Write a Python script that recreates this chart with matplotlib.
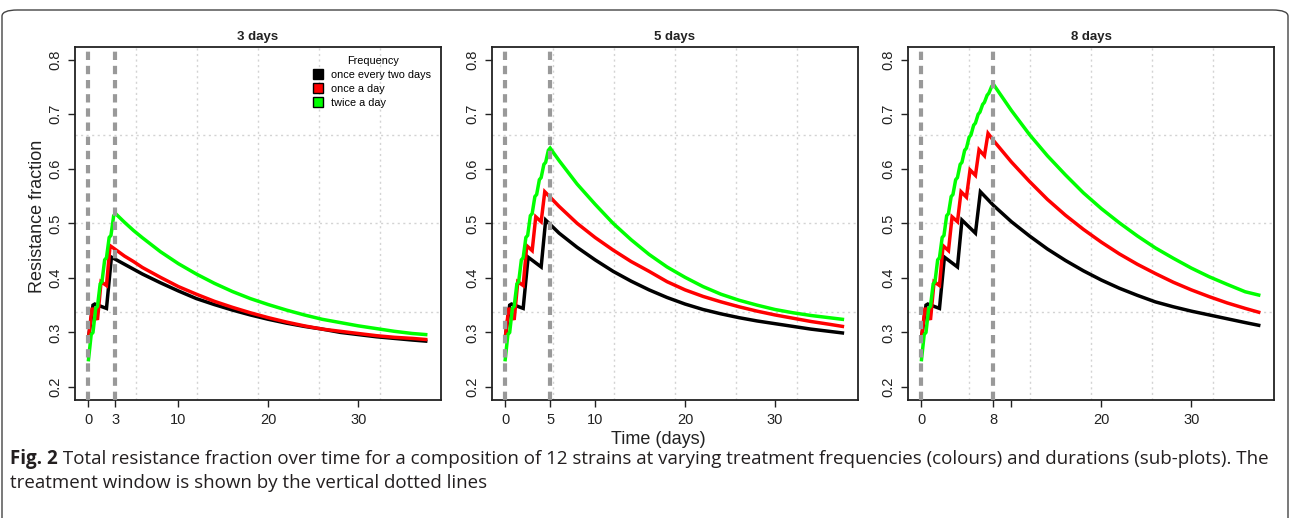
import matplotlib
matplotlib.use("Agg")
import matplotlib.pyplot as plt
from matplotlib.lines import Line2D
from matplotlib.patches import FancyBboxPatch
from matplotlib import font_manager

# panels: treatment duration in days
durations = [3, 5, 8]
titles = ["3 days", "5 days", "8 days"]
freq_labels = ["once every two days", "once a day", "twice a day"]
colors = ["black", "#ff0000", "#00ff00"]

# treatment phase (shorter panels share the start)
black_treat_t = [0, 0.5, 0.7, 2.0, 2.55, 4.0, 4.5, 6.0, 6.55]
black_treat_v = [0.29, 0.35, 0.352, 0.344, 0.438, 0.42, 0.506, 0.482, 0.558]
red_treat_t = [0, 0.4, 1.0, 1.4, 2.0, 2.4, 3.0, 3.4, 4.0, 4.4, 5.0, 5.4, 6.0, 6.4, 7.0, 7.4]
red_treat_v = [0.29, 0.345, 0.323, 0.393, 0.386, 0.459, 0.45, 0.512, 0.503, 0.558,
               0.548, 0.598, 0.588, 0.635, 0.624, 0.665]
green_treat_t = [0, 0.3, 0.5, 0.8, 1.0, 1.3, 1.5, 1.8, 2.0, 2.3, 2.5, 2.8, 3.0, 3.3, 3.5, 3.8,
                 4.0, 4.3, 4.5, 4.8, 5.0, 5.3, 5.5, 5.8, 6.0, 6.3, 6.5, 6.8, 7.0, 7.3, 7.5, 7.8]
green_treat_v = [0.25, 0.296, 0.30, 0.344, 0.348, 0.389, 0.393, 0.433, 0.437, 0.474, 0.478, 0.514,
                 0.518, 0.549, 0.553, 0.58, 0.584, 0.608, 0.612, 0.634, 0.638, 0.658, 0.662, 0.68,
                 0.684, 0.70, 0.704, 0.718, 0.722, 0.735, 0.739, 0.751]

# after the treatment window
after_t_3 = [3, 4, 5, 6, 8, 10, 12, 14, 16, 18, 20, 22, 24, 26, 28, 30, 32, 34, 36, 37.5]
black_after_3 = [0.434, 0.425, 0.416, 0.407, 0.391, 0.376, 0.362, 0.351, 0.341, 0.332,
                 0.324, 0.317, 0.311, 0.306, 0.300, 0.296, 0.292, 0.289, 0.286, 0.284]
red_after_3 = [0.452, 0.440, 0.430, 0.419, 0.401, 0.384, 0.370, 0.357, 0.346, 0.336,
               0.327, 0.319, 0.312, 0.306, 0.302, 0.298, 0.294, 0.291, 0.289, 0.287]
green_after_3 = [0.518, 0.502, 0.487, 0.4735, 0.448, 0.426, 0.407, 0.390, 0.375, 0.362,
                 0.351, 0.341, 0.332, 0.324, 0.318, 0.312, 0.307, 0.302, 0.298, 0.296]

after_t_5 = [5, 6, 8, 10, 12, 14, 16, 18, 20, 22, 24, 26, 28, 30, 32, 34, 36, 37.5]
black_after_5 = [0.498, 0.482, 0.456, 0.433, 0.412, 0.394, 0.378, 0.364, 0.352, 0.342,
                 0.334, 0.327, 0.321, 0.316, 0.311, 0.306, 0.302, 0.299]
red_after_5 = [0.548, 0.531, 0.500, 0.474, 0.451, 0.430, 0.412, 0.393, 0.378, 0.366,
               0.356, 0.347, 0.339, 0.332, 0.326, 0.320, 0.315, 0.311]
green_after_5 = [0.638, 0.615, 0.572, 0.535, 0.500, 0.470, 0.443, 0.420, 0.401, 0.384,
                 0.370, 0.359, 0.350, 0.342, 0.336, 0.331, 0.327, 0.324]

after_t_8 = [8, 10, 12, 14, 16, 18, 20, 22, 24, 26, 28, 30, 32, 34, 36, 37.5]
black_after_8 = [0.533, 0.503, 0.477, 0.453, 0.432, 0.413, 0.396, 0.381, 0.368, 0.356,
                 0.347, 0.339, 0.332, 0.325, 0.318, 0.313]
red_after_8 = [0.652, 0.6125, 0.577, 0.544, 0.515, 0.489, 0.4655, 0.444, 0.425, 0.408,
               0.392, 0.378, 0.3655, 0.354, 0.344, 0.337]
green_after_8 = [0.755, 0.707, 0.663, 0.624, 0.589, 0.556, 0.527, 0.501, 0.477, 0.455,
                 0.436, 0.418, 0.402, 0.388, 0.3745, 0.3685]

after_t = [after_t_3, after_t_5, after_t_8]
after_v = [[black_after_3, red_after_3, green_after_3],
           [black_after_5, red_after_5, green_after_5],
           [black_after_8, red_after_8, green_after_8]]
treat_t = [black_treat_t, red_treat_t, green_treat_t]
treat_v = [black_treat_v, red_treat_v, green_treat_v]

yticks = [0.2, 0.3, 0.4, 0.5, 0.6, 0.7, 0.8]

W, H = 1290, 518
plt.rcParams['font.family'] = ['Liberation Sans', 'DejaVu Sans']
fig = plt.figure(figsize=(W / 100, H / 100), dpi=100)

XL = (-1.5, 39.2)
YL = (0.176, 0.824)
lefts = [75, 491.7, 908]
top, bottom, width = 46.7, 400, 366
ink = "#222222"

axes = []
for i, T in enumerate(durations):
    ax = fig.add_axes([lefts[i] / W, 1 - bottom / H, width / W, (bottom - top) / H])
    axes.append(ax)
    ax.set_xlim(XL)
    ax.set_ylim(YL)
    # R style grid(6, 4)
    for k in range(1, 6):
        ax.axvline(XL[0] + k * (XL[1] - XL[0]) / 6, color="#d3d3d3", lw=1.0,
                   ls=(0, (1.5, 2.5)), zorder=1)
    for k in range(1, 4):
        ax.axhline(YL[0] + k * (YL[1] - YL[0]) / 4, color="#d3d3d3", lw=1.0,
                   ls=(0, (1.5, 2.5)), zorder=1)
    for j in range(3):
        tt = [t for t in treat_t[j] if t < T]
        vv = treat_v[j][:len(tt)]
        ax.plot(tt + after_t[i], vv + after_v[i][j], color=colors[j], lw=2.5,
                solid_joinstyle="miter", zorder=3 + j)
    for x in (0, T):
        ax.axvline(x, color="#999999", lw=3.0, ls=(0, (2.0, 1.4)), zorder=7)

    xt = [0, T, 10, 20, 30]
    xl = ["0", str(T), "10", "20", "30"]
    if T == 8:
        xl[2] = ""
    ax.set_xticks(xt)
    ax.set_xticklabels(xl)
    ax.set_yticks(yticks)
    ax.set_yticklabels([f"{v:.1f}" for v in yticks], rotation=90, va="center")
    ax.tick_params(axis="both", direction="out", length=5, width=1, labelsize=10.5,
                   color=ink, labelcolor=ink)
    ax.tick_params(axis="x", pad=4)
    ax.tick_params(axis="y", pad=4)
    for s in ax.spines.values():
        s.set_linewidth(1.3)
        s.set_color(ink)
    ax.set_title(titles[i], fontsize=9.5, fontweight="bold", pad=5, color=ink)

axes[0].set_ylabel("Resistance fraction", fontsize=13, color=ink)
axes[0].yaxis.set_label_coords(-0.078, 0.52)
fig.text(658.5 / W, 1 - 439 / H, "Time (days)", fontsize=13, ha="center", va="center",
         color=ink)

handles = [Line2D([], [], ls="none", marker="s", markersize=7, markerfacecolor=c,
                  markeredgecolor="black", markeredgewidth=1.0) for c in colors]
leg = axes[0].legend(handles, freq_labels, title="Frequency", loc="upper right",
                     bbox_to_anchor=(1.0, 1.0), frameon=False, fontsize=7.8,
                     title_fontsize=7.8, handlelength=0.8, handletextpad=0.8,
                     labelspacing=0.35, borderaxespad=0.5)

# outer journal frame
frame = FancyBboxPatch((2 / W, -0.05), (W - 4) / W, 1.05 - 10 / H,
                       boxstyle="round,pad=0,rounding_size=0.012",
                       transform=fig.transFigure, fill=False, lw=1.0,
                       edgecolor="#444444", clip_on=False)
fig.patches.append(frame)

names = {f.name for f in font_manager.fontManager.ttflist}
cap_font = "Liberation Sans Narrow" if "Liberation Sans Narrow" in names else "Open Sans"
cap_col = "#231f20"
line1 = (" Total resistance fraction over time for a composition of 12 strains at varying "
         "treatment frequencies (colours) and durations (sub-plots). The")
line2 = "treatment window is shown by the vertical dotted lines"

fig.canvas.draw()
r = fig.canvas.get_renderer()
probe1 = fig.text(0, 0, "Fig. 2", fontsize=10, fontweight="bold", family=cap_font)
probe2 = fig.text(0, 0, line1, fontsize=10, family=cap_font)
wtot = probe1.get_window_extent(r).width + probe2.get_window_extent(r).width
probe1.remove()
probe2.remove()
fs = 10 * (1268 - 10) / wtot

t1 = fig.text(10 / W, 1 - 459 / H, "Fig. 2", fontsize=fs, fontweight="bold",
              family=cap_font, va="center", color=cap_col)
w1 = t1.get_window_extent(r).width
fig.text((10 + w1) / W, 1 - 459 / H, line1, fontsize=fs, family=cap_font,
         va="center", color=cap_col)
fig.text(10 / W, 1 - 483 / H, line2, fontsize=fs, family=cap_font, va="center",
         color=cap_col)

fig.savefig("out.png", dpi=100)
